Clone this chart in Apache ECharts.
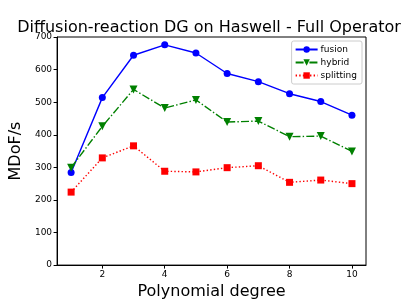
<!DOCTYPE html>
<html>
<head>
<meta charset="utf-8">
<script src="https://cdn.jsdelivr.net/npm/echarts@6/dist/echarts.min.js"></script>
<style>html,body{margin:0;padding:0;background:#fff;}#c{width:407px;height:305px;}</style>
</head>
<body>
<div id="c"></div>
<script>
const degrees = [1, 2, 3, 4, 5, 6, 7, 8, 9, 10];
const fusion = [284, 514, 644, 676, 651, 588, 563, 526, 502, 460];
const hybrid = [299, 426, 539, 482, 507, 439, 442, 394, 396, 349];
const splitting = [224, 329, 366, 288, 286, 299, 305, 254, 261, 250];
const xTicks = [2, 4, 6, 8, 10];
const yTicks = [0, 100, 200, 300, 400, 500, 600, 700];

const pair = (arr) => degrees.map((d, i) => [d, arr[i]]);
const font = 'DejaVu Sans';
const chart = echarts.init(document.getElementById('c'), null, {renderer: 'canvas'});
chart.setOption({
  animation: false,
  backgroundColor: '#fff',
  title: {
    text: 'Diffusion-reaction DG on Haswell - Full Operator',
    left: 204, top: 15, textAlign: 'center',
    textStyle: {fontFamily: font, fontSize: 16, fontWeight: 'normal', color: '#000'}
  },
  legend: {
    orient: 'vertical', right: 45, top: 41,
    itemWidth: 22, itemHeight: 8, itemGap: 4,
    padding: [4, 5, 4, 3],
    borderColor: '#cccccc', borderWidth: 1, borderRadius: 2,
    backgroundColor: '#fff',
    textStyle: {fontFamily: font, fontSize: 9, color: '#000', padding: [0, 0, 0, -2]},
    data: ['fusion', 'hybrid', 'splitting']
  },
  grid: {left: 51, right: 41, top: 37, bottom: 34, show: true, borderColor: '#000', borderWidth: 1},
  xAxis: {
    type: 'value', min: 0.55, max: 10.45,
    name: 'Polynomial degree', nameLocation: 'middle', nameGap: 17,
    nameTextStyle: {fontFamily: font, fontSize: 16, color: '#000'},
    axisLine: {show: true, lineStyle: {color: '#000', width: 1}},
    axisTick: {show: true, length: 3.5, customValues: xTicks, lineStyle: {color: '#000'}},
    axisLabel: {customValues: xTicks, fontFamily: font, fontSize: 9, color: '#000', margin: 5},
    splitLine: {show: false}
  },
  yAxis: {
    type: 'value', min: 0, max: 700, interval: 100,
    name: 'MDoF/s', nameLocation: 'middle', nameGap: 27, nameRotate: 90,
    nameTextStyle: {fontFamily: font, fontSize: 16, color: '#000'},
    axisLine: {show: true, lineStyle: {color: '#000', width: 1}},
    axisTick: {show: true, length: 3.5, lineStyle: {color: '#000'}},
    axisLabel: {fontFamily: font, fontSize: 9, color: '#000', margin: 5},
    splitLine: {show: false}
  },
  series: [
    {name: 'fusion', type: 'line', data: pair(fusion), symbol: 'circle', symbolSize: 7,
     itemStyle: {color: '#0000ff'}, lineStyle: {color: '#0000ff', width: 1.4, type: 'solid'}},
    {name: 'hybrid', type: 'line', data: pair(hybrid), symbol: 'triangle', symbolRotate: 180, symbolSize: 8,
     itemStyle: {color: '#008000'}, lineStyle: {color: '#008000', width: 1.4, type: [8, 2.2, 1.4, 2.2]}},
    {name: 'splitting', type: 'line', data: pair(splitting), symbol: 'rect', symbolSize: 7,
     itemStyle: {color: '#ff0000'}, lineStyle: {color: '#ff0000', width: 1.4, type: [1.4, 2.2]}}
  ]
});
</script>
</body>
</html>
